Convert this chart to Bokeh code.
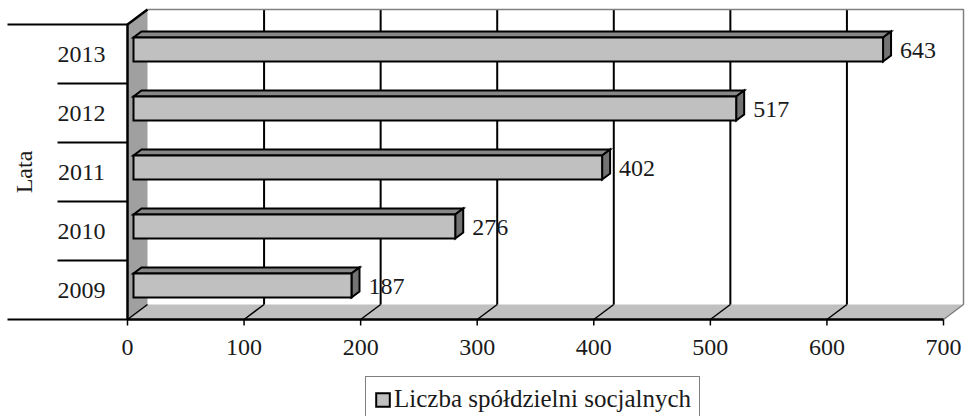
from math import pi
from bokeh.plotting import figure
from bokeh.models import Legend, LegendItem, ColumnDataSource, Range1d
from bokeh.core.properties import value
from bokeh.embed import file_html
from bokeh.resources import INLINE

# ---- data ----
years = ["2009", "2010", "2011", "2012", "2013"]
counts = [187, 276, 402, 517, 643]
x_ticks = [0, 100, 200, 300, 400, 500, 600, 700]
axis_title = "Lata"
series_name = "Liczba spółdzielni socjalnych"

# ---- geometry (screen pixels -> data units) ----
W, H = 966, 416
PXU = 816 / 700.0      # px per value unit
PXC = 59.0             # px per category
ORIGIN_X = 127         # px from left to value 0
ORIGIN_Y = 319         # px from top to category baseline

def ux(px):
    return px / PXU

def uy(px):
    return px / PXC

X_MAX = x_ticks[-1]
NCAT = len(years)
XD, YD = ux(20), uy(15)       # depth of the 3D box
F0, F1 = 0.3, 0.7             # bar depth front/back fractions
HH = uy(12)                   # half bar height

FONT = "Liberation Serif"
TXT = "#1a1a1a"

p = figure(width=W, height=H, output_backend="svg", toolbar_location=None,
           x_range=Range1d(-ux(ORIGIN_X), ux(W - ORIGIN_X)),
           y_range=Range1d(-uy(H - ORIGIN_Y), uy(ORIGIN_Y)),
           min_border=0, x_axis_type=None, y_axis_type=None)
p.outline_line_color = None
p.background_fill_color = "white"
p.xgrid.visible = False
p.ygrid.visible = False

# left wall and floor
p.patch([0, 0, XD, XD], [0, NCAT, NCAT + YD, YD], fill_color="#a0a0a0", line_color=None)
p.patch([0, X_MAX, X_MAX + XD, XD], [0, 0, YD, YD], fill_color="#c0c0c0", line_color=None)

# back wall gridlines
inner = x_ticks[1:-1]
p.segment(x0=[t + XD for t in inner], y0=[YD] * len(inner),
          x1=[t + XD for t in inner], y1=[NCAT + YD] * len(inner),
          line_color="black", line_width=2)
# floor gridlines
fl = x_ticks[:-1]
p.segment(x0=fl, y0=[0] * len(fl), x1=[t + XD for t in fl], y1=[YD] * len(fl),
          line_color="black", line_width=1.5)
# gray box edges
p.line([XD, X_MAX + XD, X_MAX + XD, X_MAX], [NCAT + YD, NCAT + YD, YD, 0],
       line_color="#808080", line_width=1.5)
# left wall edges and front axis line
p.line([XD, 0, 0, X_MAX], [NCAT + YD, NCAT, 0, 0], line_color="black", line_width=2.5)

# value axis ticks and labels
p.segment(x0=x_ticks, y0=[0] * len(x_ticks), x1=x_ticks, y1=[-uy(6)] * len(x_ticks),
          line_color="black", line_width=1.5)
p.text(x=x_ticks, y=[-uy(28)] * len(x_ticks), text=[str(t) for t in x_ticks],
       text_font=value(FONT), text_font_size="24px", text_color=TXT,
       text_align="center", text_baseline="middle")

# category separator lines on the left
outer_x0 = -ux(120)
inner_x0 = -ux(70)
ys = list(range(NCAT + 1))
p.segment(x0=[outer_x0 if (k == 0 or k == NCAT) else inner_x0 for k in ys], y0=ys,
          x1=[0] * len(ys), y1=ys, line_color="black", line_width=2)

# category labels and axis title
p.text(x=[-ux(46)] * NCAT, y=[i + 0.5 for i in range(NCAT)], text=years,
       text_font=value(FONT), text_font_size="24px", text_color=TXT,
       text_align="center", text_baseline="middle")
p.text(x=[-ux(104)], y=[NCAT / 2.0], text=[axis_title], angle=pi / 2,
       text_font=value(FONT), text_font_size="24px", text_color=TXT,
       text_align="center", text_baseline="middle")

# bars
yc = [i + 0.5 for i in range(NCAT)]
fx0 = F0 * XD
src = ColumnDataSource(dict(
    left=[fx0] * NCAT,
    right=[v + fx0 for v in counts],
    bottom=[c - HH + F0 * YD for c in yc],
    top=[c + HH + F0 * YD for c in yc],
))
ddx = (F1 - F0) * XD
ddy = (F1 - F0) * YD
top_xs, top_ys, side_xs, side_ys = [], [], [], []
for v, c in zip(counts, yc):
    x1 = v + fx0
    y0 = c - HH + F0 * YD
    y1 = c + HH + F0 * YD
    top_xs.append([fx0, x1, x1 + ddx, fx0 + ddx])
    top_ys.append([y1, y1, y1 + ddy, y1 + ddy])
    side_xs.append([x1, x1 + ddx, x1 + ddx, x1])
    side_ys.append([y0, y0 + ddy, y1 + ddy, y1])
p.patches(top_xs, top_ys, fill_color="#878787", line_color="black", line_width=2, line_join="miter")
p.patches(side_xs, side_ys, fill_color="#737373", line_color="black", line_width=2, line_join="miter")
front = p.quad(left="left", right="right", bottom="bottom", top="top", source=src,
               fill_color="#c0c0c0", line_color="black", line_width=2, line_join="miter")

# value labels
p.text(x=[v + fx0 + ux(17) for v in counts], y=[c + uy(4) for c in yc],
       text=[str(v) for v in counts], text_font=value(FONT), text_font_size="24px",
       text_color=TXT, text_align="left", text_baseline="middle")

legend = Legend(items=[LegendItem(label=series_name, renderers=[front])],
                location=(365, -6), orientation="horizontal",
                padding=8, margin=0, label_standoff=3, glyph_width=17, glyph_height=17,
                label_text_font=FONT, label_text_font_size="25px", label_text_color=TXT,
                border_line_color="black", border_line_width=1.5,
                background_fill_color="white", background_fill_alpha=1)
p.add_layout(legend, "center")

open("out.html", "w").write(file_html(p, INLINE))
